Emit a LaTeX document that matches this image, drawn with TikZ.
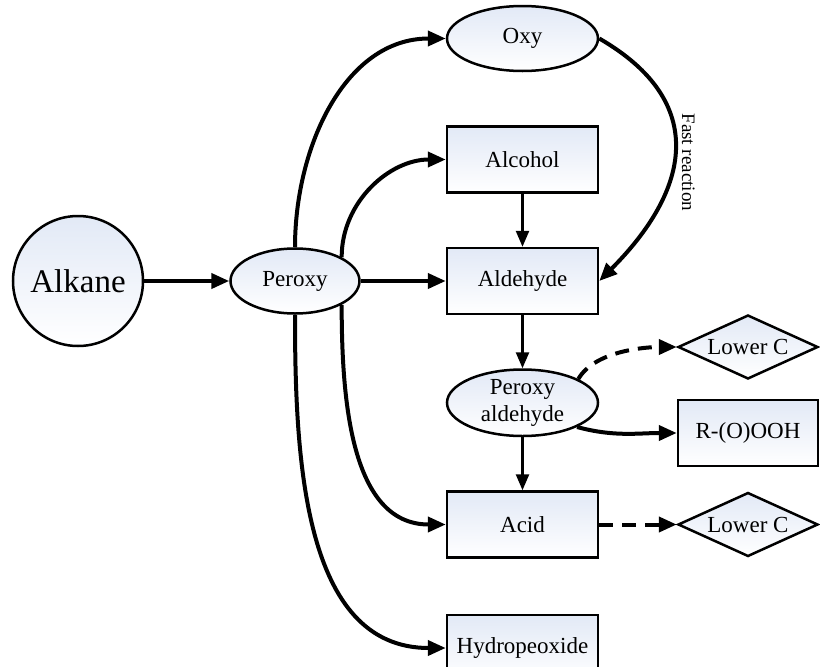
\documentclass[tikz,border=0pt]{standalone}
\usepackage{fontspec}
\setmainfont{Liberation Serif}
\usetikzlibrary{positioning, shapes.geometric, arrows.meta}

\definecolor{boxtop}{RGB}{226,233,246}

\tikzset{
  shadebox/.style={draw, line width=2.5pt, top color=boxtop, bottom color=white, font=\fontsize{23}{27}\selectfont},
  species/.style={shadebox, rectangle, minimum width=151pt, minimum height=66pt},
  radical/.style={shadebox, ellipse, minimum width=151pt, minimum height=65pt},
  lumped/.style={shadebox, diamond, shape aspect=2.2, minimum width=140pt, minimum height=64pt, inner sep=0pt},
  mainarrow/.style={-{Triangle[length=18pt,width=15pt]}, line width=4pt},
  thinarrow/.style={-{Triangle[length=16pt,width=13pt]}, line width=2.5pt},
  dasharrow/.style={mainarrow, dash pattern=on 14pt off 9pt},
}

\begin{document}
\begin{tikzpicture}[x=1pt, y=1pt, node distance=53pt and 85pt]
    \useasboundingbox (0,0) rectangle (820,-667);

    % Nodes
    \node [shadebox, circle, minimum size=130pt, font=\fontsize{33}{33}\selectfont] (alkane) at (78,-281) {Alkane};
    \node [radical, minimum width=129pt, right=of alkane] (peroxy) {Peroxy};
    \node [species, right=of peroxy] (aldehyde) {Aldehyde};
    \node [species, above=of aldehyde] (alcohol) {Alcohol};
    \node [radical, above=of alcohol] (oxy) {Oxy};
    \node [radical, inner sep=0pt, align=center, below=of aldehyde] (peroxyald) {Peroxy\\aldehyde};
    \node [species, below=of peroxyald] (acid) {Acid};
    \node [species, below=55pt of acid] (hydro) {Hydropeoxide};
    \node [lumped] (lowc1) at (748,-347) {Lower C};
    \node [lumped] (lowc2) at (lowc1 |- acid) {Lower C};
    \node [species, minimum width=140pt] (rooh) at (748,-433) {R-(O)OOH};

    % Arrows
    \draw [mainarrow] (alkane) -- (peroxy);
    \draw [mainarrow] (peroxy) -- (aldehyde);
    \draw [mainarrow] (peroxy.north) to [out=90, in=180] (oxy.west);
    \draw [mainarrow] (peroxy.27) to [out=90, in=180] (alcohol.west);
    \draw [mainarrow] (peroxy.-27) to [out=-90, in=180] (acid.west);
    \draw [mainarrow] (peroxy.south) to [out=-90, in=180] (hydro.west);
    \draw [mainarrow] (oxy.east) to [out=-30, in=45, looseness=1.35]
        node [pos=0.55, anchor=south, rotate=-90, inner sep=7pt, font=\fontsize{19}{19}\selectfont] {Fast reaction} (aldehyde.east);
    \draw [thinarrow] (alcohol) -- (aldehyde);
    \draw [thinarrow] (aldehyde) -- (peroxyald);
    \draw [thinarrow] (peroxyald) -- (acid);
    \draw [dasharrow] (peroxyald.23) to [out=60, in=180, looseness=0.8] (lowc1.west);
    \draw [mainarrow] (peroxyald.-24) to [out=-15, in=180] (rooh.west);
    \draw [dasharrow] (acid) -- (lowc2);
\end{tikzpicture}
\end{document}
